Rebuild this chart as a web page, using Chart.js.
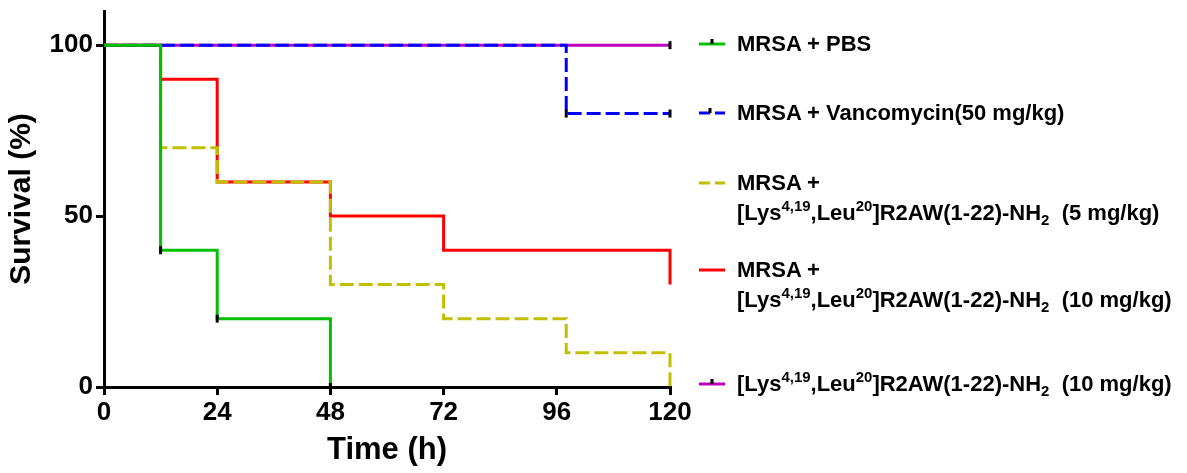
<!DOCTYPE html>
<html>
<head>
<meta charset="utf-8">
<script src="https://cdn.jsdelivr.net/npm/chart.js@4/dist/chart.umd.min.js"></script>
<style>
  html, body { margin: 0; padding: 0; background: #fff; }
  #wrap { position: relative; width: 1187px; height: 473px; }
  #chart { position: absolute; left: 0; top: 0; }
  .leg { position: absolute; left: 0; font-family: "Liberation Sans", Arial, sans-serif; font-weight: bold; font-size: 22px; line-height: 30px; color: #000; white-space: nowrap; }
  .leg svg { position: absolute; left: 698px; top: 9px; }
  .leg .txt { position: absolute; left: 737px; top: 0; }
  sup, sub { font-size: 0.68em; vertical-align: 0; position: relative; line-height: 0; }
  sup { top: -0.6em; }
  sub { top: 0.35em; }
</style>
</head>
<body>
<div id="wrap">
  <canvas id="chart" width="1187" height="473"></canvas>

  <div class="leg" style="top:29px">
    <svg width="30" height="12"><line x1="1" y1="6" x2="27" y2="6" stroke="#00c000" stroke-width="3"/><line x1="14" y1="1" x2="14" y2="6" stroke="#000" stroke-width="3"/></svg>
    <div class="txt">MRSA + PBS</div>
  </div>
  <div class="leg" style="top:98px">
    <svg width="30" height="12"><line x1="1" y1="6" x2="27" y2="6" stroke="#0000ff" stroke-width="3" stroke-dasharray="11,5"/><line x1="12" y1="1" x2="12" y2="6" stroke="#000" stroke-width="3"/></svg>
    <div class="txt">MRSA + Vancomycin(50 mg/kg)</div>
  </div>
  <div class="leg" style="top:168px">
    <svg width="30" height="12"><line x1="1" y1="6" x2="27" y2="6" stroke="#c0c000" stroke-width="3" stroke-dasharray="11,5"/></svg>
    <div class="txt">MRSA +<br>[Lys<sup>4,19</sup>,Leu<sup>20</sup>]R2AW(1-22)-NH<sub>2</sub>&nbsp;&nbsp;(5 mg/kg)</div>
  </div>
  <div class="leg" style="top:255px">
    <svg width="30" height="12"><line x1="1" y1="6" x2="27" y2="6" stroke="#ff0000" stroke-width="3"/></svg>
    <div class="txt">MRSA +<br>[Lys<sup>4,19</sup>,Leu<sup>20</sup>]R2AW(1-22)-NH<sub>2</sub>&nbsp;&nbsp;(10 mg/kg)</div>
  </div>
  <div class="leg" style="top:369px">
    <svg width="30" height="12"><line x1="1" y1="6" x2="27" y2="6" stroke="#c000c0" stroke-width="3"/><line x1="14" y1="1" x2="14" y2="6" stroke="#000" stroke-width="3"/></svg>
    <div class="txt">[Lys<sup>4,19</sup>,Leu<sup>20</sup>]R2AW(1-22)-NH<sub>2</sub>&nbsp;&nbsp;(10 mg/kg)</div>
  </div>
</div>

<script>
// survival curves, step points (time in h, survival in %)
const pbsTime = [0, 12, 24, 48];
const pbsSurv = [100, 40, 20, 0];

const vancoTime = [0, 98, 120];
const vancoSurv = [100, 80, 80];

const low5Time = [0, 12, 24, 48, 72, 98, 120];
const low5Surv = [100, 70, 60, 30, 20, 10, 0];

const high10Time = [0, 12, 24, 48, 72, 120];
const high10Surv = [100, 90, 60, 50, 40, 30];

const peptideTime = [0, 120];
const peptideSurv = [100, 100];

// censor ticks
const censorTime = [12, 24, 48, 98, 120, 120];
const censorSurv = [40, 20, 0, 80, 80, 100];

const xTicks = [0, 24, 48, 72, 96, 120];
const yTicks = [0, 50, 100];

const pts = (xs, ys) => xs.map((x, i) => ({x: x, y: ys[i]}));

const font = "'Liberation Sans', Arial, sans-serif";

const stepLine = (data, color, dash) => ({
  type: "line",
  data,
  borderColor: color,
  backgroundColor: color,
  borderWidth: 3,
  borderDash: dash || [],
  stepped: true,
  pointRadius: 0,
  fill: false,
  clip: 4,
});

const config = {
  type: "line",
  data: {
    datasets: [
      {
        type: "scatter",
        data: pts(censorTime, censorSurv),
        pointStyle: "line",
        rotation: 90,
        radius: 4,
        borderColor: "#000",
        borderWidth: 3,
        clip: 6,
      },
      stepLine(pts(pbsTime, pbsSurv), "#00c000"),
      stepLine(pts(vancoTime, vancoSurv), "#0000ff", [14, 5]),
      stepLine(pts(low5Time, low5Surv), "#c0c000", [14, 5]),
      stepLine(pts(high10Time, high10Surv), "#ff0000"),
      stepLine(pts(peptideTime, peptideSurv), "#c000c0"),
    ],
  },
  options: {
    responsive: false,
    animation: false,
    layout: {padding: {top: 11, right: 517, left: 0, bottom: 0}},
    plugins: {legend: {display: false}, tooltip: {enabled: false}},
    scales: {
      x: {
        type: "linear",
        min: 0,
        max: 120,
        afterBuildTicks: (s) => { s.ticks = xTicks.map((v) => ({value: v})); },
        afterFit: (s) => { s.height = 86; },
        border: {display: true, color: "#000", width: 3},
        grid: {display: true, drawOnChartArea: false, drawTicks: true, tickLength: 8, color: "#000", lineWidth: 3},
        ticks: {color: "#000", padding: 2, font: {family: font, size: 26, weight: "bold"}},
        title: {display: true, text: "Time (h)", color: "#000", padding: {top: 0}, font: {family: font, size: 31, weight: "bold"}},
      },
      y: {
        min: 0,
        max: 110,
        afterBuildTicks: (s) => { s.ticks = yTicks.map((v) => ({value: v})); },
        afterFit: (s) => { s.width = 104; s.paddingTop = 0; },
        border: {display: true, color: "#000", width: 3},
        grid: {display: true, drawOnChartArea: false, drawTicks: true, tickLength: 8, color: "#000", lineWidth: 3},
        ticks: {color: "#000", padding: 3, font: {family: font, size: 26, weight: "bold"}},
        title: {display: true, text: "Survival (%)", color: "#000", padding: {bottom: 2}, font: {family: font, size: 30, weight: "bold"}},
      },
    },
  },
};

window.onload = function () {
  const ctx = document.getElementById("chart").getContext("2d");
  window.chart = new Chart(ctx, config);
};
</script>
</body>
</html>
